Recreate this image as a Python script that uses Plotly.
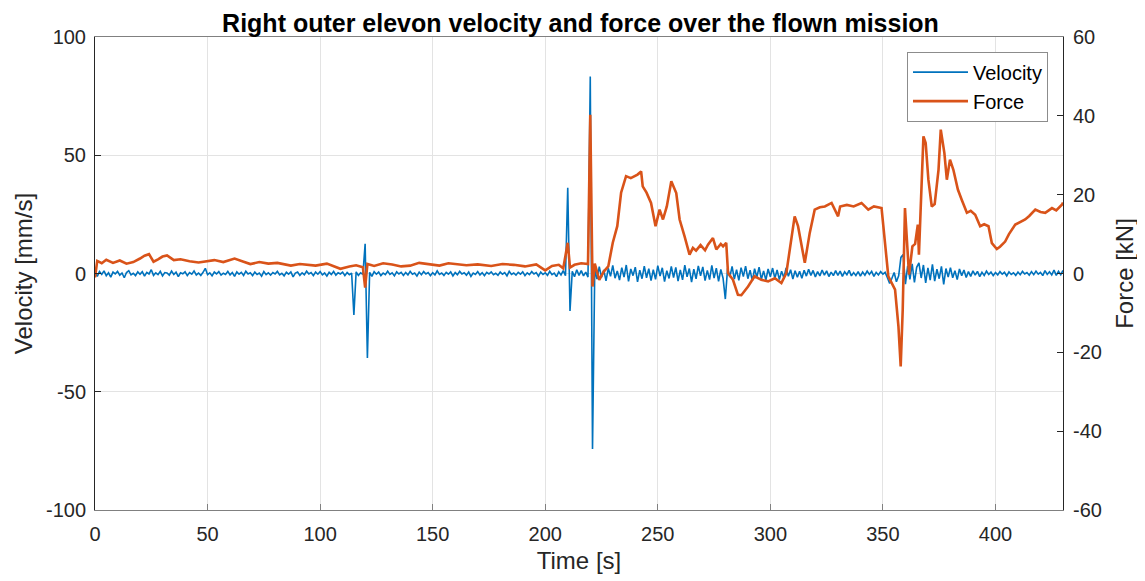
import numpy as np
import plotly.graph_objects as go

# velocity sampled once per second, 0..430 s
time_vel = np.arange(0, 431)
velocity = [
    0.5, -1.2, 0.8, -0.4, 1.1, -0.9, 0.3, -1.5, 0.6, -0.2,
    0.9, -0.7, 0.2, -1.8, 0.4, 1.2, -0.6, 0.1, -0.9, 0.7,
    -0.3, 0.8, -1.1, 0.5, -0.2, 1.6, -0.8, 0.3, -0.5, 0.9,
    -1.0, 0.4, 0.2, -0.7, 1.0, -0.4, 0.6, -1.3, 0.3, -0.1,
    0.7, -0.9, 0.4, -0.3, 1.1, -0.6, 0.2, -0.8, 0.5, 2.2,
    -0.5, 0.3, -1.0, 0.6, -0.2, 0.8, -0.7, 0.1, -0.4, 0.9,
    -0.6, 0.4, -1.2, 0.7, -0.3, 0.5, -0.8, 1.0, -0.2, 0.3,
    -0.9, 0.6, -0.4, 0.2, -1.1, 0.8, -0.5, 0.3, -0.7, 0.4,
    -0.2, 0.9, -0.6, 0.1, -1.0, 0.5, -0.3, 0.7, -1.4, 0.2,
    0.6, -0.8, 0.3, -0.5, 1.0, -0.2, 0.4, -0.9, 0.6, -0.3,
    0.8, -0.6, 0.2, -1.1, 0.5, -0.4, 0.9, -0.7, 0.3, -0.2,
    0.6, -0.9, 0.4, -0.5, 0.2, -17.5, 0.7, -0.8, 0.3, -0.4,
    12.6, -35.7, 0.5, -1.2, 0.8, -0.3, 0.6, -0.9, 0.2, -0.5,
    1.0, -0.4, 0.3, -1.0, 0.7, -0.2, 0.5, -0.8, 0.4, -0.6,
    0.9, -0.3, 0.2, -1.1, 0.6, -0.5, 0.8, -0.2, 0.4, -0.9,
    0.3, -0.6, 1.1, -0.4, 0.2, -0.8, 0.5, -0.3, 0.7, -1.0,
    0.4, -0.5, 0.9, -0.2, 0.3, -0.7, 0.6, -1.2, 0.2, -0.4,
    0.8, -0.6, 0.3, -0.9, 0.5, -0.2, 0.7, -0.5, 0.1, -0.8,
    0.6, -0.3, 0.4, -1.0, 0.9, -0.4, 0.2, -0.7, 0.5, -0.3,
    0.7, -0.9, 0.3, -0.5, 0.8, -0.2, 0.4, -1.1, 0.6, -0.4,
    0.3, -0.8, 0.9, -0.5, 0.2, -1.3, 0.7, -0.6, 1.2, -0.9,
    36.3, -15.8, 0.9, -1.4, 1.6, -0.8, 1.2, -1.0, 0.6, -1.5,
    83.3, -74.2, 1.8, -2.4, 2.9, -1.6, 1.5, -3.1, 2.2, -1.2,
    3.4, -2.0, 1.1, -2.8, 2.5, -1.5, 3.6, -3.3, 1.9, -0.9,
    2.7, -3.5, 1.4, -2.2, 3.1, -1.8, 2.0, -3.0, 1.6, -2.5,
    3.3, -1.1, 2.4, -3.4, 1.2, -2.1, 3.0, -1.7, 2.6, -3.2,
    1.5, -2.7, 3.5, -1.4, 2.1, -3.6, 1.8, -2.3, 3.2, -1.0,
    2.8, -3.0, 1.3, -2.6, 3.4, -1.9, 2.3, -3.3, 1.7, -2.0,
    -10.8, 2.2, -1.5, 3.0, -2.4, 1.6, -2.9, 2.5, -1.3, 3.1,
    -2.2, 1.4, -3.1, 2.0, -1.6, 2.7, -2.5, 1.1, -2.8, 1.9,
    -1.4, 2.3, -2.0, 1.5, -2.6, 1.0, -1.8, 2.4, -1.2, 1.6,
    -2.3, 1.2, -1.6, 0.9, -2.0, 1.4, -1.1, 1.8, -0.8, 1.3,
    -1.5, 0.8, -1.0, 1.5, -0.7, 1.1, -1.3, 0.6, -0.9, 1.2,
    -0.8, 1.0, -1.2, 0.7, -0.5, 1.3, -1.0, 0.4, -0.9, 0.8,
    -1.1, 0.6, -0.7, 1.0, -0.4, 0.9, -1.2, 0.5, -0.6, 0.8,
    -0.3, 0.5, -1.8, -4.2, -2.0, 0.4, -3.5, -1.0, 6.8, 8.0,
    -4.5, 3.2, -2.5, 4.1, -3.8, 2.6, 4.5, -1.9, 3.6, -4.0,
    2.4, -2.8, 3.9, -3.2, 1.8, -2.2, 3.0, -4.6, 2.1, -1.5,
    2.5, -1.8, 1.2, -2.6, 1.9, -0.9, 1.5, -1.7, 0.8, -1.2,
    1.1, -0.7, 0.9, -1.3, 0.5, -0.8, 1.0, -0.4, 0.6, -0.9,
    0.4, -0.6, 0.8, -0.3, 0.5, -1.0, 0.7, -0.4, 0.3, -0.8,
    0.6, -0.5, 0.9, -0.2, 0.4, -0.7, 0.8, -0.5, 1.0, -0.3,
    0.5, -0.9, 1.2, -0.4, 0.7, -0.6, 1.4, -0.8, 0.9, -0.5,
    1.3,
]

time_force = [
    0, 1, 3, 5, 8, 11, 14, 17, 20, 22,
    24, 26, 28, 30, 32, 35, 38, 42, 46, 50,
    53, 57, 62, 66, 69, 73, 77, 81, 87, 91,
    94, 98, 103, 106, 109, 113, 116, 119, 120, 121,
    124, 128, 132, 136, 140, 144, 149, 153, 157, 161,
    165, 170, 176, 181, 186, 191, 196, 200, 203, 206,
    208, 210, 211, 213, 216, 219, 220, 221, 222, 224,
    226, 228, 230, 232, 233.7, 235.9, 238, 241, 242.6, 243.3,
    245, 247, 249, 250.8, 252.3, 254, 256, 258.2, 259.7, 261.9,
    264.1, 265.6, 267, 269, 271, 272.3, 274.5, 276, 278, 279,
    280.4, 281.2, 283.4, 285.6, 287.1, 290.1, 293, 296, 299, 302,
    304.9, 307.1, 309.4, 310.8, 312.3, 315.3, 317.5, 319.7, 322, 324.2,
    327.2, 330.1, 331, 334, 337, 340.5, 343.5, 346, 349.4, 350.9,
    352.4, 355.4, 356.9, 357.9, 358.8, 359.8, 361.6, 363.1, 364.3, 365.5,
    366, 368, 369, 370.2, 371.7, 373, 374.7, 375.7, 377.3, 378.4,
    379.8, 381.3, 383.3, 385, 387.3, 389, 391, 393.2, 395, 396.9,
    398.4, 400.6, 402, 404.3, 406, 408.8, 411, 413.2, 415, 417.7,
    420, 422.1, 425.1, 427, 429.6, 430,
]
force = [
    -1.0, 3.2, 2.6, 3.5, 2.7, 3.3, 2.5, 2.9, 3.8, 4.5,
    4.9, 3.0, 3.6, 4.3, 4.6, 3.4, 3.6, 3.1, 2.8, 3.2,
    3.4, 2.9, 3.8, 3.0, 2.4, 2.9, 2.5, 2.7, 2.0, 2.4,
    2.3, 2.0, 2.5, 1.9, 1.2, 1.8, 2.1, 1.6, -3.6, 2.4,
    1.9, 2.6, 2.3, 1.8, 2.0, 2.7, 2.4, 2.0, 2.6, 2.4,
    2.1, 2.3, 1.9, 2.4, 2.2, 1.8, 2.3, 0.8, 1.9, 2.2,
    1.3, 7.8, 1.5, 2.2, 2.6, 2.4, 40.3, -3.3, 2.5, -1.6,
    0.5, 1.8, 7.8, 12.0, 20.5, 24.7, 24.2, 25.1, 25.9, 22.1,
    20.5, 17.9, 12.0, 16.2, 13.7, 17.0, 23.4, 20.4, 13.7, 9.4,
    4.8, 6.5, 5.8, 7.2, 5.9, 7.3, 9.0, 6.1, 7.5, 6.9,
    7.8, 0.1, -1.6, -5.4, -5.5, -3.3, -0.7, -1.6, -2.0, -1.2,
    -2.4, 0.1, 8.6, 14.5, 12.0, 2.7, 10.3, 16.2, 16.8, 17.0,
    17.9, 14.5, 17.0, 17.4, 17.0, 17.9, 16.2, 17.0, 16.6, 7.7,
    -0.7, -4.1, -13.4, -23.6, -9.2, 16.6, -0.3, 6.9, 7.5, 12.4,
    4.8, 34.8, 33.1, 23.8, 17.0, 17.6, 26.3, 36.5, 30.6, 23.8,
    28.9, 26.3, 21.3, 18.7, 15.4, 15.9, 14.9, 12.0, 12.5, 12.0,
    7.7, 6.2, 6.8, 8.1, 10.0, 12.4, 13.0, 13.7, 14.6, 16.2,
    15.6, 15.4, 16.6, 16.0, 17.5, 18.0,
]

x_ticks = [0, 50, 100, 150, 200, 250, 300, 350, 400]
vel_ticks = [-100, -50, 0, 50, 100]
force_ticks = [-60, -40, -20, 0, 20, 40, 60]

BLUE = "#0072BD"
ORANGE = "#D95319"
FONT = "Liberation Sans, Arial, sans-serif"

fig = go.Figure()
fig.add_trace(go.Scatter(x=time_vel, y=velocity, name="Velocity", mode="lines",
                         line=dict(color=BLUE, width=1.6)))
fig.add_trace(go.Scatter(x=time_force, y=force, name="Force", mode="lines",
                         line=dict(color=ORANGE, width=2.6), yaxis="y2"))

# the page body adds an 8 px offset, so margins are trimmed by that much
fig.update_layout(
    width=1145, height=581,
    margin=dict(l=87, r=90, t=29, b=79),
    paper_bgcolor="white", plot_bgcolor="white",
    font=dict(family=FONT, color="#262626", size=20),
    title=dict(text="<b>Right outer elevon velocity and force over the flown mission</b>",
               x=0.5, xanchor="center", y=1 - 6 / 581, yanchor="top",
               font=dict(size=25, color="black")),
    xaxis=dict(range=[0, 430], tickvals=x_ticks, automargin=False, ticklabelstandoff=6,
               title=dict(text="Time [s]", font=dict(size=24), standoff=8),
               showgrid=True, gridcolor="#e3e3e3", gridwidth=1, zeroline=False,
               showline=True, linecolor="#808080", linewidth=1, mirror=True,
               ticks="inside", ticklen=6, tickcolor="#808080", tickfont=dict(size=20)),
    yaxis=dict(range=[-100, 100], tickvals=vel_ticks, ticktext=[str(v) for v in vel_ticks],
               automargin=False, ticklabelstandoff=4,
               title=dict(text="Velocity [mm/s]", font=dict(size=24), standoff=6),
               showgrid=True, gridcolor="#e3e3e3", gridwidth=1, zeroline=False,
               showline=True, linecolor="#262626", linewidth=1,
               ticks="inside", ticklen=6, tickcolor="#262626", tickfont=dict(size=20)),
    yaxis2=dict(range=[-60, 60], tickvals=force_ticks, ticktext=[str(v) for v in force_ticks],
                overlaying="y", side="right", automargin=False, ticklabelstandoff=5,
                title=dict(text="Force [kN]", font=dict(size=24), standoff=15),
                showgrid=False, zeroline=False,
                showline=True, linecolor="#262626", linewidth=1,
                ticks="inside", ticklen=6, tickcolor="#262626", tickfont=dict(size=20)),
    legend=dict(x=0.9845, y=0.969, xanchor="right", yanchor="top",
                bgcolor="white", bordercolor="#8c8c8c", borderwidth=1,
                font=dict(size=20, color="black"), tracegroupgap=0, itemwidth=55),
    showlegend=True,
)

fig.write_html("out.html")
